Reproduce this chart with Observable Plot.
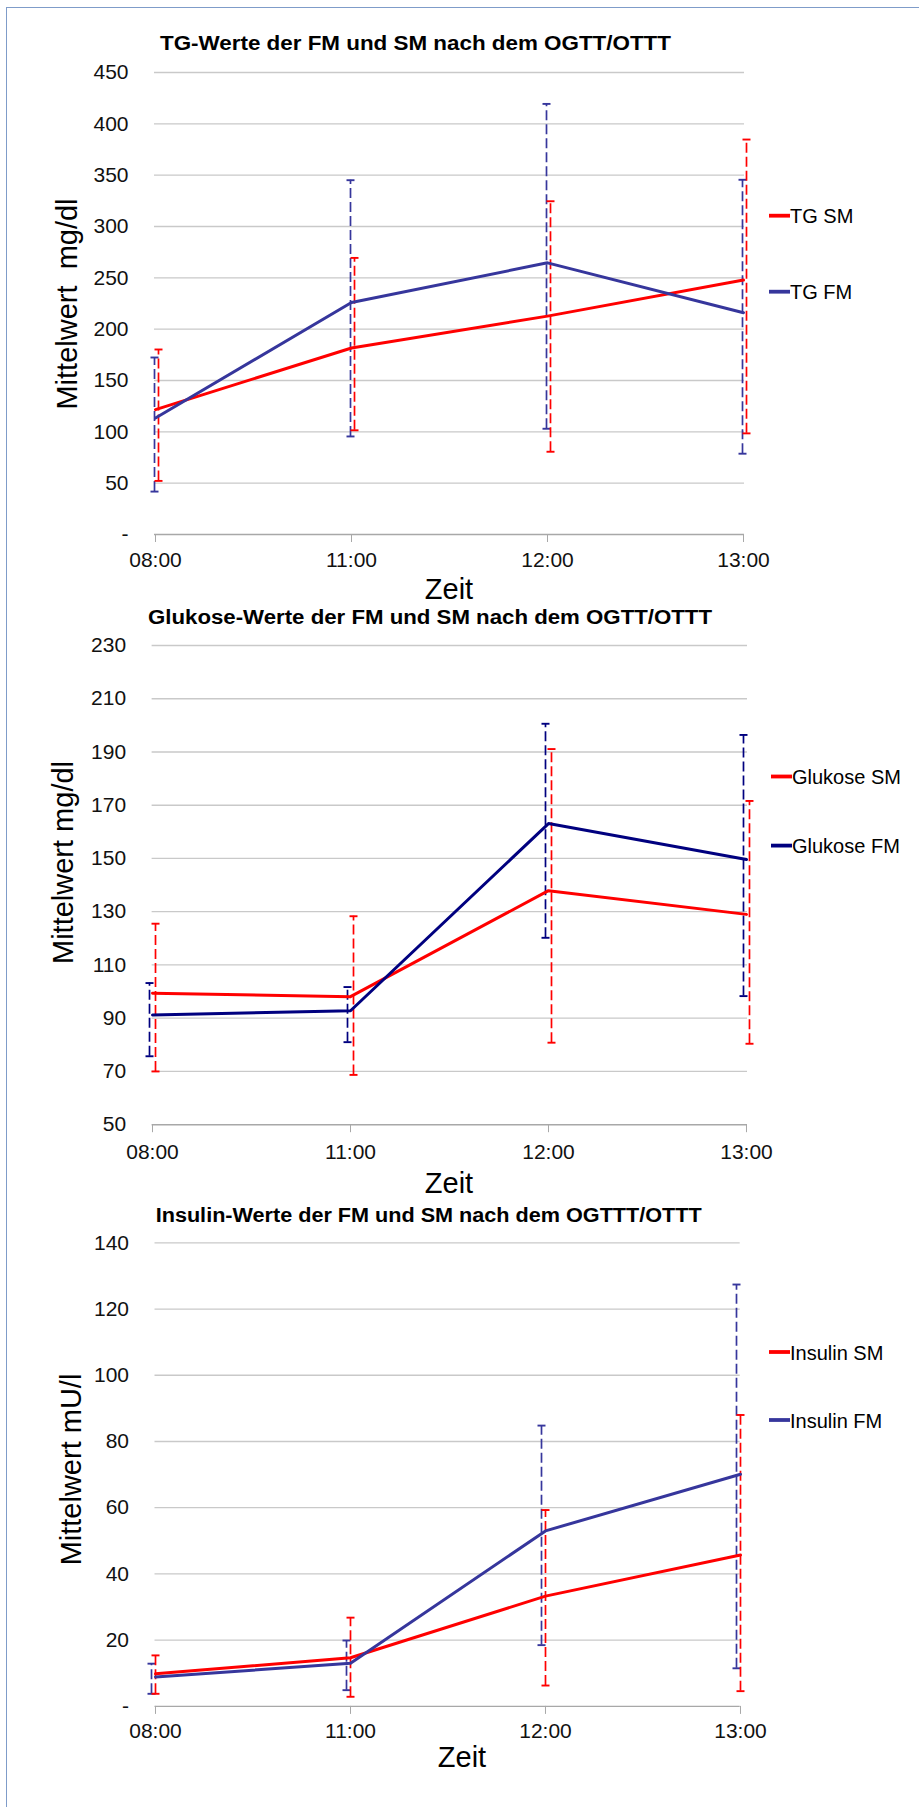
<!DOCTYPE html>
<html><head><meta charset="utf-8">
<script src="https://cdn.jsdelivr.net/npm/d3@7"></script>
<script src="https://cdn.jsdelivr.net/npm/@observablehq/plot@0.6"></script>
<style>
html,body{margin:0;padding:0;background:#fff;}
#page{position:relative;width:919px;height:1807px;overflow:hidden;font-family:"Liberation Sans",Arial,Helvetica,sans-serif;background:#fff;}
.chart{position:absolute;left:0;}
#border{position:absolute;left:6px;top:7px;width:940px;height:1820px;border-left:1px solid #7f9cc9;border-top:1px solid #7f9cc9;}
#overlay{position:absolute;left:0;top:0;pointer-events:none;}
</style></head><body><div id="page"><div id="border"></div></div>
<script>
const zeit = ["08:00","11:00","12:00","13:00"];

const tgNames = ["TG SM","TG FM"];
const tgSM = [121.6,181.7,212.7,247.8];
const tgSMLow = [52.2,101.5,80.6,98.5];
const tgSMHigh = [180.2,269.4,324.6,384.7];
const tgFM = [113.4,226.0,264.6,216.0];
const tgFMLow = [41.8,95.5,103.0,78.7];
const tgFMHigh = [172.4,345.1,419.4,345.5];
const tgTicks = [0,50,100,150,200,250,300,350,400,450];

const gluNames = ["Glukose SM","Glukose FM"];
const gluSM = [99.4,98.1,137.9,129.0];
const gluSMLow = [70.0,68.7,80.8,80.4];
const gluSMHigh = [125.5,128.3,191.1,171.6];
const gluFM = [91.2,92.8,163.1,149.6];
const gluFMLow = [75.7,81.0,120.2,98.3];
const gluFMHigh = [103.2,101.7,200.6,196.4];
const gluTicks = [50,70,90,110,130,150,170,190,210,230];

const insNames = ["Insulin SM","Insulin FM"];
const insSM = [9.85,14.7,33.3,45.7];
const insSMLow = [3.8,2.9,6.3,4.6];
const insSMHigh = [15.4,26.8,59.3,88.0];
const insFM = [8.9,13.0,53.0,70.1];
const insFMLow = [3.8,4.9,18.5,11.5];
const insFMHigh = [12.9,19.9,84.8,127.4];
const insTicks = [0,20,40,60,80,100,120,140];

const titles = ["TG-Werte der FM und SM nach dem OGTT/OTTT",
  "Glukose-Werte der FM und SM nach dem OGTT/OTTT",
  "Insulin-Werte der FM und SM nach dem OGTTT/OTTT"];
const yLabels = ["Mittelwert  mg/dl","Mittelwert mg/dl","Mittelwert mU/l"];
const xLabel = "Zeit";

const RED = "#ff0000";
const FONT = '"Liberation Sans", Arial, Helvetica, sans-serif';

const charts = [
  {title:titles[0], yLabel:yLabels[0], names:tgNames, sm:[tgSM,tgSMLow,tgSMHigh], fm:[tgFM,tgFMLow,tgFMHigh], ticks:tgTicks, fmColor:"#36369c",
   L:{top:60, plotTop:72, plotBottom:534, left:154, right:744, tickPad:10, smDx:3, fmDx:-1, titleX:160, titleY:50, titleW:511, yLabX:77, yLabY:304, zeitX:449, zeitY:599, legX:769, legY:[215.7,291.7]}},
  {title:titles[1], yLabel:yLabels[1], names:gluNames, sm:[gluSM,gluSMLow,gluSMHigh], fm:[gluFM,gluFMLow,gluFMHigh], ticks:gluTicks, fmColor:"#00007f",
   L:{top:635, plotTop:645, plotBottom:1124.2, left:151.6, right:747, tickPad:11, smDx:3, fmDx:-3, titleX:148, titleY:624, titleW:564, yLabX:73, yLabY:862.5, zeitX:449, zeitY:1193, legX:771, legY:[776.5,845.6]}},
  {title:titles[2], yLabel:yLabels[2], names:insNames, sm:[insSM,insSMLow,insSMHigh], fm:[insFM,insFMLow,insFMHigh], ticks:insTicks, fmColor:"#36369c",
   L:{top:1232, plotTop:1242.3, plotBottom:1705.9, left:154.5, right:739.7, tickPad:9, smDx:0, fmDx:-4, titleX:155.7, titleY:1221.5, titleW:546, yLabX:81, yLabY:1469.5, zeitX:462, zeitY:1766.5, legX:769, legY:[1352,1420]}}
];

const cap = {draw(ctx, size){ const w = Math.sqrt(size/Math.PI); ctx.moveTo(-w,0); ctx.lineTo(w,0); }};

const page = document.getElementById("page");

for (const c of charts) {
  const L = c.L;
  const rows = (arr) => zeit.map((z,i) => ({zeit:z, mean:arr[0][i], low:arr[1][i], high:arr[2][i]}));
  const smRows = rows(c.sm), fmRows = rows(c.fm);
  const marginBottom = 45;
  const height = (L.plotBottom - L.top) + marginBottom;
  const y0 = c.ticks[0], y1 = c.ticks[c.ticks.length-1];
  const errMarks = (data, color, dx) => [
    Plot.ruleX(data, {x:"zeit", y1:"low", y2:"high", stroke:color, strokeWidth:1.7, strokeDasharray:"10,4", dx}),
    Plot.dot(data, {x:"zeit", y:"low", symbol:cap, r:4, stroke:color, strokeWidth:1.9, fill:"none", dx}),
    Plot.dot(data, {x:"zeit", y:"high", symbol:cap, r:4, stroke:color, strokeWidth:1.9, fill:"none", dx})
  ];
  const svg = Plot.plot({
    width: 919, height,
    marginLeft: L.left, marginRight: 919 - L.right, marginTop: L.plotTop - L.top, marginBottom,
    x: {type:"point", domain: zeit, padding: 0},
    y: {domain:[y0, y1]},
    style: {fontFamily: FONT, fontSize: "21px", color: "#111", background: "transparent", overflow: "visible"},
    marks: [
      Plot.gridY(c.ticks.slice(1), {stroke:"#c9c9c9", strokeOpacity:1, strokeWidth:1.3}),
      Plot.ruleY([y0], {stroke:"#a8a8a8", strokeWidth:1.4}),
      Plot.axisX({tickSize:8, tickPadding:L.tickPad, stroke:"#a8a8a8", fill:"#111", label:null, fontSize:21}),
      Plot.axisY({ticks:c.ticks, tickSize:0, tickPadding:26, tickFormat: d => d === 0 ? "-" : String(d), label:null, fontSize:21, fill:"#111"}),
      ...errMarks(fmRows, c.fmColor, L.fmDx),
      ...errMarks(smRows, RED, L.smDx),
      Plot.line(smRows, {x:"zeit", y:"mean", stroke:RED, strokeWidth:3}),
      Plot.line(fmRows, {x:"zeit", y:"mean", stroke:c.fmColor, strokeWidth:3})
    ]
  });
  svg.classList.add("chart");
  svg.style.top = L.top + "px";
  svg.style.position = "absolute";
  page.appendChild(svg);
}

const ov = d3.select(page).append("svg").attr("id","overlay").attr("width",919).attr("height",1807)
  .style("font-family", FONT);

for (const c of charts) {
  const L = c.L;
  ov.append("text").attr("x", L.titleX).attr("y", L.titleY)
    .attr("font-size", 20).attr("font-weight", "bold").attr("fill", "#000")
    .attr("textLength", L.titleW).attr("lengthAdjust", "spacingAndGlyphs").text(c.title);
  ov.append("text").attr("transform", `translate(${L.yLabX},${L.yLabY}) rotate(-90)`)
    .attr("text-anchor", "middle").attr("font-size", 29).attr("fill", "#000")
    .style("white-space", "pre").text(c.yLabel);
  ov.append("text").attr("x", L.zeitX).attr("y", L.zeitY).attr("text-anchor", "middle")
    .attr("font-size", 29).attr("fill", "#000").text(xLabel);
  const colors = [RED, c.fmColor];
  c.names.forEach((n, i) => {
    ov.append("line").attr("x1", L.legX).attr("x2", L.legX + 21).attr("y1", L.legY[i]).attr("y2", L.legY[i])
      .attr("stroke", colors[i]).attr("stroke-width", 3.8);
    ov.append("text").attr("x", L.legX + 21).attr("y", L.legY[i] + 7.5).attr("font-size", 20)
      .attr("fill", "#000").text(n);
  });
}
</script></body></html>
